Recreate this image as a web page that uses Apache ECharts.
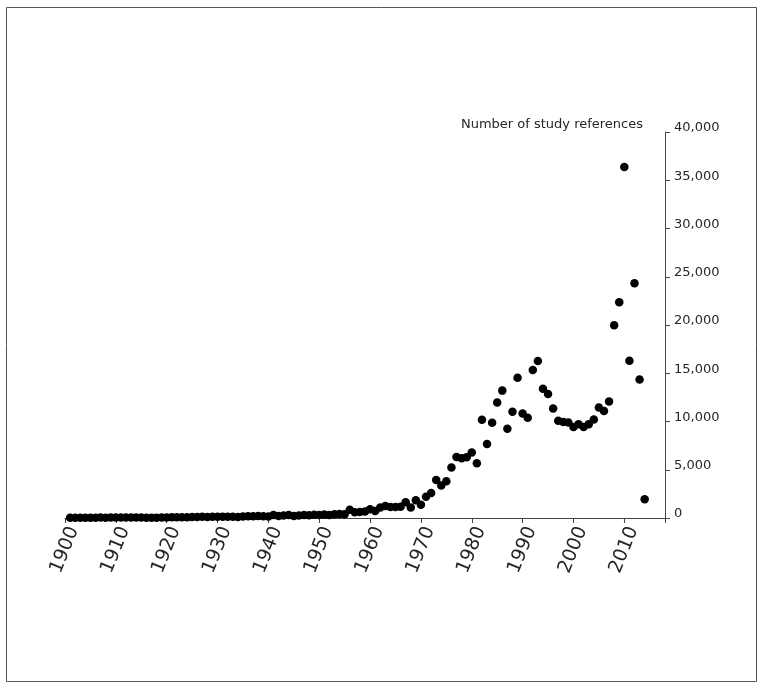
<!DOCTYPE html>
<html>
<head>
<meta charset="utf-8">
<script src="https://cdn.jsdelivr.net/npm/echarts@6/dist/echarts.min.js"></script>
<style>
  html, body { margin: 0; padding: 0; background: #fff; }
  #chart { width: 763px; height: 688px; }
</style>
</head>
<body>
<div id="chart"></div>
<script>
// years 1901 .. 2014
const years = [];
for (let y = 1901; y <= 2014; y++) years.push(y);

// number of study references per year
const refs = [
  20, 25, 30, 25, 35, 30, 40, 35, 45, 40,
  45, 50, 55, 50, 40, 35, 30, 35, 45, 60,
  70, 75, 80, 90, 110, 100, 120, 110, 130, 140,
  120, 130, 140, 110, 160, 170, 180, 200, 190, 150,
  320, 200, 250, 300, 220, 260, 300, 280, 330, 300,
  350, 300, 380, 420, 380, 850, 600, 620, 680, 900,
  720, 1080, 1250, 1140, 1140, 1160, 1620, 1080, 1850, 1380,
  2200, 2580, 3950, 3380, 3820, 5230, 6330, 6200, 6300, 6790,
  5680, 10170, 7680, 9860, 11970, 13200, 9240, 11000, 14530, 10830,
  10380, 15330, 16260, 13390, 12840, 11350, 10070, 9960, 9900, 9440,
  9720, 9440, 9720, 10210, 11460, 11100, 12080, 19970, 22360, 36370,
  16290, 24330, 14360, 1940
];

const yTitle = 'Number of study references';

const chart = echarts.init(document.getElementById('chart'));
const font = 'DejaVu Sans';

chart.setOption({
  animation: false,
  textStyle: { fontFamily: font },
  graphic: [{
    type: 'rect',
    shape: { x: 6.5, y: 7.5, width: 750, height: 674 },
    style: { fill: 'none', stroke: '#555', lineWidth: 1 },
    silent: true
  }],
  title: {
    text: yTitle,
    right: 115,
    top: 113,
    textStyle: { fontFamily: font, fontSize: 13, fontWeight: 'normal', color: '#262626' }
  },
  grid: { left: 65, right: 98, top: 132, bottom: 170, containLabel: false },
  xAxis: {
    type: 'value',
    min: 1900,
    max: 2018,
    interval: 10,
    axisLine: { show: true, lineStyle: { color: '#444', width: 1 } },
    axisTick: { show: true, length: 5, lineStyle: { color: '#444' } },
    splitLine: { show: false },
    axisLabel: {
      rotate: 68,
      margin: 6,
      fontSize: 19,
      verticalAlign: 'top',
      color: '#262626',
      fontFamily: font,
      formatter: (v) => (v % 10 === 0 ? String(v) : '')
    }
  },
  yAxis: {
    type: 'value',
    position: 'right',
    min: 0,
    max: 40000,
    interval: 5000,
    axisLine: { show: true, lineStyle: { color: '#444', width: 1 } },
    axisTick: { show: true, length: 5, lineStyle: { color: '#444' } },
    splitLine: { show: false },
    axisLabel: {
      margin: 9,
      fontSize: 13,
      lineHeight: 8,
      verticalAlign: 'bottom',
      color: '#262626',
      fontFamily: font,
      formatter: (v) => v.toLocaleString('en-US')
    }
  },
  series: [{
    type: 'scatter',
    symbol: 'circle',
    symbolSize: 8.5,
    itemStyle: { color: '#000', opacity: 1 },
    data: years.map((y, i) => [y, refs[i]])
  }]
});
</script>
</body>
</html>
